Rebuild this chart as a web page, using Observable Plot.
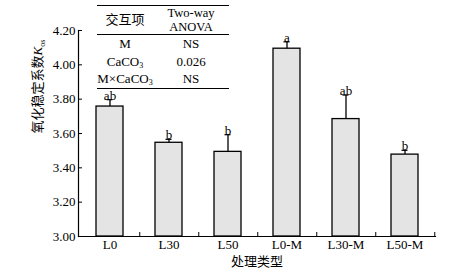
<!DOCTYPE html>
<html><head><meta charset="utf-8">
<script src="https://cdn.jsdelivr.net/npm/d3@7"></script>
<script src="https://cdn.jsdelivr.net/npm/@observablehq/plot@0.6"></script>
<style>
body{margin:0;background:#fff;}
#wrap{position:relative;width:464px;height:274px;font-family:"Liberation Serif","Noto Sans CJK SC",serif;}
#anova{position:absolute;left:97px;top:5px;width:132px;border-collapse:collapse;font-size:13px;line-height:1;color:#000;table-layout:fixed;}
#anova th,#anova td{padding:0;text-align:center;font-weight:normal;white-space:nowrap;}
#anova thead tr{border-top:1.5px solid #000;border-bottom:1px solid #000;}
#anova thead th{height:28px;line-height:14px;}
#anova thead th.two{font-size:12.5px;}
#anova tbody td{height:17.5px;}
#anova tbody tr:last-child{border-bottom:1.5px solid #000;}
#anova sub{font-size:8px;vertical-align:-2px;line-height:0;}
</style></head>
<body><div id="wrap"></div>
<script>
// ---- data ----
const categories = ["L0", "L30", "L50", "L0-M", "L30-M", "L50-M"];
const values = [3.757, 3.546, 3.493, 4.094, 3.684, 3.477];
const errors = [0.040, 0.020, 0.100, 0.040, 0.140, 0.025];
const letters = ["ab", "b", "b", "a", "ab", "b"];
const yTicks = [3.00, 3.20, 3.40, 3.60, 3.80, 4.00, 4.20];
const xTitle = "处理类型";
const yTitle = "氧化稳定系数";
const yTitleSymbol = "K";
const yTitleSub = "os";
const tableHeader = ["交互项", ["Two-way", "ANOVA"]];
const termBase = ["M", "CaCO", "M×CaCO"];
const termSub = ["", "3", "3"];
const anovaResult = ["NS", "0.026", "NS"];

const W = 464, H = 274, mL = 78, mR = 29, mT = 30, mB = 38;
const plotW = W - mL - mR, plotH = H - mT - mB;
const step = plotW / categories.length;
const tickLen = 4;
const FS = 13;

const data = categories.map((c, i) => ({cat: c, value: values[i], top: values[i] + errors[i], letter: letters[i]}));
const font = '"Liberation Serif","Noto Sans CJK SC",serif';

const svg = Plot.plot({
  width: W, height: H,
  marginLeft: mL, marginRight: mR, marginTop: mT, marginBottom: mB,
  style: {fontFamily: font, fontSize: FS + "px", color: "#000", background: "#fff"},
  x: {domain: categories, paddingInner: 0.546, paddingOuter: 0.273, label: null},
  y: {domain: [yTicks[0], yTicks[yTicks.length - 1]], label: null},
  marks: [
    Plot.barY(data, {x: "cat", y1: yTicks[0], y2: "value", fill: "#e4e4e4", stroke: "#000", strokeWidth: 1.3}),
    Plot.ruleX(data, {x: "cat", y1: "value", y2: "top", stroke: "#000", strokeWidth: 1.3}),
    Plot.tickY(data, {x: "cat", y: "top", insetLeft: 10.5, insetRight: 10.5, stroke: "#000", strokeWidth: 1.2}),
    Plot.text(data, {x: "cat", y: "top", text: "letter", lineAnchor: "bottom", dy: 0, fill: "#000", fontSize: FS}),
    Plot.tickY(yTicks, {y: d => d, insetRight: plotW - tickLen, stroke: "#000"}),
    Plot.tickX(categories, {x: d => d, dx: step / 2, insetTop: plotH - tickLen, stroke: "#000"}),
    Plot.frame({anchor: "left", stroke: "#000", strokeWidth: 1.2}),
    Plot.frame({anchor: "bottom", stroke: "#000", strokeWidth: 1.2}),
    Plot.axisY({ticks: yTicks, tickFormat: d => d.toFixed(2), tickSize: 0, tickPadding: 3, label: null, fontSize: FS}),
    Plot.axisX({tickSize: 0, tickPadding: 3, label: xTitle, labelAnchor: "center", labelOffset: 29, fontSize: FS}),
    Plot.text([yTitle], {text: d => d, frameAnchor: "left", rotate: -90, dx: -41, fill: "#000", fontSize: FS})
  ]
});

d3.select(svg).selectAll("text").filter(function() { return this.textContent === yTitle; }).each(function() {
  const t = d3.select(this);
  t.append("tspan").attr("font-style", "italic").text(yTitleSymbol);
  t.append("tspan").attr("font-size", "8px").attr("dy", "3").text(yTitleSub);
});

const wrap = document.getElementById("wrap");
wrap.appendChild(svg);

// ANOVA inset table
const table = d3.select(wrap).append("table").attr("id", "anova");
table.append("colgroup").selectAll("col").data([56, 76]).join("col").style("width", d => d + "px");
const hr = table.append("thead").append("tr");
hr.append("th").text(tableHeader[0]);
hr.append("th").attr("class", "two").html(tableHeader[1].join("<br>"));
const tb = table.append("tbody");
termBase.forEach((b, i) => {
  const r = tb.append("tr");
  const c = r.append("td").text(b);
  if (termSub[i]) c.append("sub").text(termSub[i]);
  r.append("td").text(anovaResult[i]);
});
</script></body></html>
